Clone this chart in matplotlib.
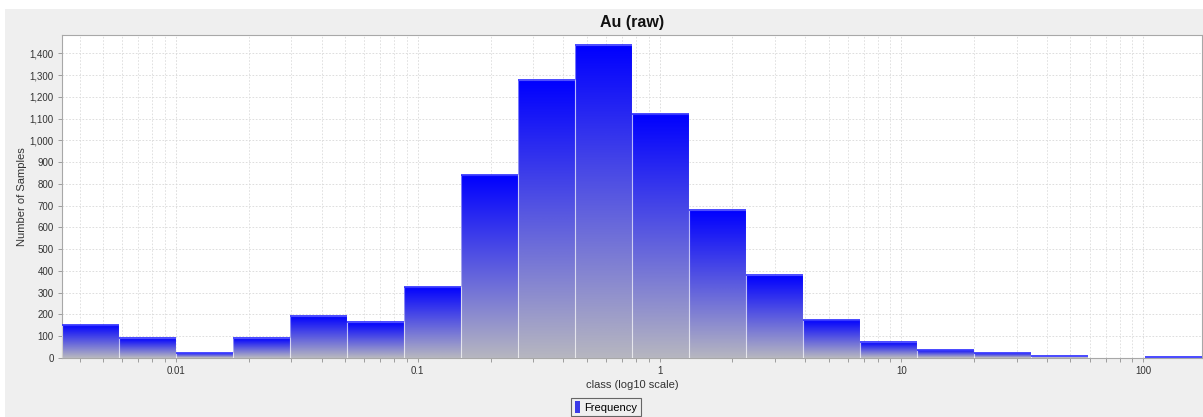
import numpy as np
import matplotlib
matplotlib.use("Agg")
import matplotlib.pyplot as plt
from matplotlib.colors import LinearSegmentedColormap
from matplotlib.patches import Patch, Rectangle
from matplotlib.ticker import FixedLocator, FuncFormatter, LogLocator, NullFormatter

plt.rcParams['font.family'] = ['Liberation Sans', 'DejaVu Sans']

# histogram data (Au, raw), 20 equal classes in log10 space
au_min = 0.00338
au_max = 175.0
n_classes = 20
counts = [152, 90, 24, 90, 193, 164, 328, 842, 1278, 1437,
          1124, 679, 380, 175, 72, 37, 23, 9, 0, 3]
decade_ticks = [0.01, 0.1, 1, 10, 100]
decade_labels = ["0.01", "0.1", "1", "10", "100"]

edges = np.logspace(np.log10(au_min), np.log10(au_max), n_classes + 1)

fig = plt.figure(figsize=(12.03, 4.17), dpi=100)
fig.patch.set_facecolor('white')
fig.patches.append(Rectangle((5 / 1203, 0), 1, 1 - 9 / 417, transform=fig.transFigure,
                             facecolor='#efefef', edgecolor='none', zorder=-10))

ax = fig.add_axes([62 / 1203, 1 - 358 / 417, 1140 / 1203, 323 / 417])
ax.set_facecolor('white')
ax.set_xscale('log')

# bars with a vertical blue -> grey gradient
cmap = LinearSegmentedColormap.from_list('bar', ['#b6b6c0', '#0000ff'])
grad = np.linspace(1, 0, 256).reshape(-1, 1)
for i, c in enumerate(counts):
    if c <= 0:
        continue
    ax.imshow(grad, extent=[edges[i], edges[i + 1], 0, c], aspect='auto',
              cmap=cmap, vmin=0, vmax=1, zorder=2, interpolation='bilinear')
ax.bar(edges[:-1], counts, width=np.diff(edges), align='edge',
       facecolor='none', edgecolor=(1, 1, 1, 0.45), linewidth=0.8, zorder=3)
# blue top outline, so the smallest classes stay visible
tops = [(edges[i], edges[i + 1], c) for i, c in enumerate(counts) if c > 0]
ax.hlines([t[2] for t in tops], [t[0] for t in tops], [t[1] for t in tops],
          color='#2a2aff', linewidth=1.2, zorder=4)

ax.set_xlim(edges[0], edges[-1])
ax.set_ylim(0, 1485)

# grid
ax.grid(True, which='major', color='#d8d8d8', linestyle=(0, (2, 2)), linewidth=0.6, zorder=1)
ax.grid(True, which='minor', axis='x', color='#dcdcdc', linestyle=(0, (2, 2)), linewidth=0.6, zorder=1)

# ticks
ax.xaxis.set_major_locator(FixedLocator(decade_ticks))
ax.set_xticklabels(decade_labels)
ax.xaxis.set_minor_locator(LogLocator(base=10, subs=np.arange(2, 10), numticks=20))
ax.xaxis.set_minor_formatter(NullFormatter())
ax.set_yticks(np.arange(0, 1401, 100))
ax.yaxis.set_major_formatter(FuncFormatter(lambda v, p: f"{int(v):,}"))
ax.tick_params(axis='both', which='both', direction='out', length=3, width=0.6,
               color='#909090', labelsize=7, labelcolor='#333333', pad=3)

for s in ax.spines.values():
    s.set_color('#a8a8a8')
    s.set_linewidth(0.8)

ax.set_title("Au (raw)", fontsize=11.5, fontweight='bold', pad=6, color='#111111')
ax.set_xlabel("class (log10 scale)", fontsize=8, color='#333333', labelpad=3)
ax.set_ylabel("Number of Samples", fontsize=8, color='#333333', labelpad=2)

handle = Patch(facecolor='#3a3ae8', edgecolor='none')
leg = fig.legend([handle], ["Frequency"], loc='center',
                 bbox_to_anchor=(606 / 1203, 1 - 407 / 417),
                 fontsize=8, frameon=True, fancybox=False,
                 handlelength=0.45, handleheight=1.2, handletextpad=0.4,
                 borderpad=0.3, borderaxespad=0)
leg.get_frame().set_facecolor('#efefef')
leg.get_frame().set_edgecolor('#444444')
leg.get_frame().set_linewidth(0.8)

fig.savefig("out.png", dpi=100, facecolor=fig.get_facecolor())
